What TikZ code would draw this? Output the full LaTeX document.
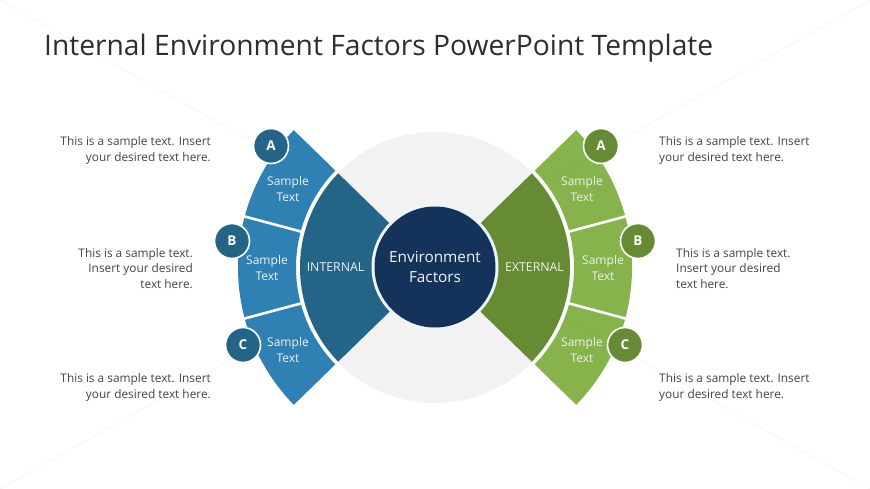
\documentclass[tikz,border=0pt]{standalone}
\usepackage{fontspec}
\setmainfont{Open Sans}
\definecolor{bluelight}{HTML}{2F81B3}
\definecolor{bluedark}{HTML}{236487}
\definecolor{navy}{HTML}{14325A}
\definecolor{greenlight}{HTML}{86B34B}
\definecolor{greendark}{HTML}{678B35}
\definecolor{halo}{HTML}{F2F2F3}
\definecolor{bodytext}{HTML}{444444}
\tikzset{
  x=1pt,y=1pt,
  badge/.style={circle,minimum size=35pt,inner sep=0pt,draw=white,line width=1.6pt,text=white,font=\fontsize{13.5}{13.5}\selectfont\bfseries},
  sidetext/.style={text=bodytext,inner sep=0pt,font=\fontsize{11.85}{15.8}\selectfont},
  lefttext/.style={sidetext,anchor=east,align=right},
  righttext/.style={sidetext,anchor=west,align=left},
  wedgetext/.style={text=white!94!black,inner sep=0pt,align=center,font=\fontsize{12}{15.4}\selectfont},
  bandtext/.style={text=white!94!black,inner sep=0pt,font=\fontsize{12.3}{14}\selectfont},
  gap/.style={white,line width=2.6pt},
  faint/.style={black!60,line width=0.6pt,opacity=0.08},
}
\begin{document}
\begin{tikzpicture}
\useasboundingbox (0,0) rectangle (870,-489);
\fill[white] (0,0) rectangle (870,-489);
\fill[halo] (435,-267.5) circle[radius=135.5];
\begin{scope}[shift={(435,-267.5)}]
  \fill[bluelight] (135.8:139pt) arc[start angle=135.8,end angle=224.2,radius=139pt]
     -- (224.2:197pt) arc[start angle=224.2,end angle=135.8,radius=197pt] -- cycle;
  \draw[gap] (165:137pt) -- (165:199pt);
  \draw[gap] (195:137pt) -- (195:199pt);
  \fill[bluedark] (0,0) -- (135.8:135pt) arc[start angle=135.8,end angle=224.2,radius=135pt] -- cycle;
  \fill[greenlight] (44.2:139pt) arc[start angle=44.2,end angle=-44.2,radius=139pt]
     -- (-44.2:197pt) arc[start angle=-44.2,end angle=44.2,radius=197pt] -- cycle;
  \draw[gap] (15:137pt) -- (15:199pt);
  \draw[gap] (-15:137pt) -- (-15:199pt);
  \fill[greendark] (0,0) -- (44.2:135pt) arc[start angle=44.2,end angle=-44.2,radius=135pt] -- cycle;
\end{scope}
\fill[white!92!bluelight] (435,-267) circle[radius=63.5];
\node[circle,minimum size=121pt,inner sep=0pt,fill=navy,text=white!95!navy,align=center,font=\fontsize{15.3}{19.2}\selectfont] (core) at (435,-267) {Environment\\Factors};
\node[bandtext] (internal) at (335.5,-267.5) {INTERNAL};
\node[bandtext] (external) at (534.5,-267.5) {EXTERNAL};
\node[wedgetext] (la) at (288,-189) {Sample\\Text};
\node[wedgetext] (lb) at (267,-268) {Sample\\Text};
\node[wedgetext] (lc) at (288,-350) {Sample\\Text};
\node[wedgetext] (ra) at (582,-189) {Sample\\Text};
\node[wedgetext] (rb) at (603,-268) {Sample\\Text};
\node[wedgetext] (rc) at (582,-350) {Sample\\Text};
\node[badge,fill=bluedark] (ba) at (271,-146) {A};
\node[badge,fill=bluedark] (bb) at (232,-241) {B};
\node[badge,fill=bluedark] (bc) at (243,-345) {C};
\node[badge,fill=greendark] (ga) at (601,-146) {A};
\node[badge,fill=greendark] (gb) at (638,-241) {B};
\node[badge,fill=greendark] (gc) at (625,-345) {C};
\node[lefttext] (t1) at (211,-150.3) {This is a sample text. Insert\\your desired text here.};
\node[lefttext] (t2) at (193,-268.5) {This is a sample text.\\Insert your desired\\text here.};
\node[lefttext] (t3) at (211,-387.8) {This is a sample text. Insert\\your desired text here.};
\node[righttext] (t4) at (659,-150.3) {This is a sample text. Insert\\your desired text here.};
\node[righttext] (t5) at (676,-268.5) {This is a sample text.\\Insert your desired\\text here.};
\node[righttext] (t6) at (659,-387.8) {This is a sample text. Insert\\your desired text here.};
\node[anchor=base west,inner sep=0pt,text=black!82,font=\fontsize{28.2}{28.2}\selectfont] (title) at (44,-56) {Internal Environment Factors PowerPoint Template};
\coordinate (c1) at (0,0); \coordinate (c1e) at (335,-188.3);
\coordinate (c2) at (870,0); \coordinate (c2e) at (535,-188.3);
\coordinate (c3) at (0,-489); \coordinate (c3e) at (335,-300.7);
\coordinate (c4) at (870,-489); \coordinate (c4e) at (535,-300.7);
\draw[faint] (c1) -- (c1e);
\draw[faint] (c2) -- (c2e);
\draw[faint] (c3) -- (c3e);
\draw[faint] (c4) -- (c4e);
\end{tikzpicture}
\end{document}
